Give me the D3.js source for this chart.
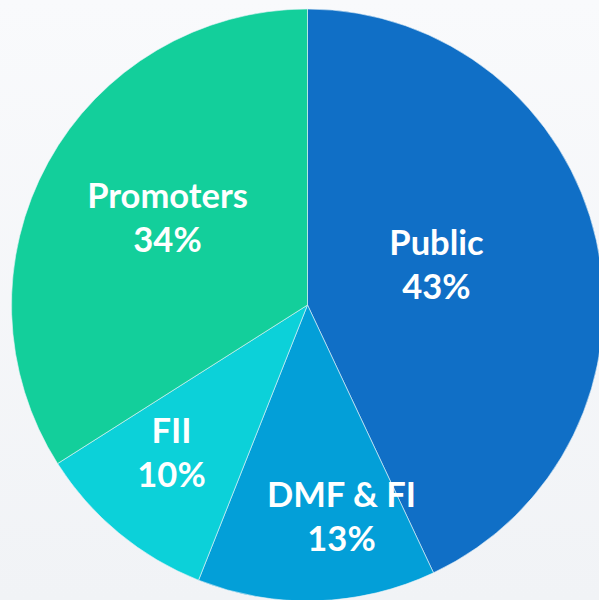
<!DOCTYPE html>
<html>
<head>
<meta charset="utf-8">
<script src="https://cdn.jsdelivr.net/npm/d3@7"></script>
<style>
  html, body { margin: 0; padding: 0; }
  body { width: 599px; height: 600px; overflow: hidden; }
</style>
</head>
<body>
<svg id="chart" width="599" height="600"></svg>
<script>
// ---- data ----
const categories = ["Public", "DMF & FI", "FII", "Promoters"];
const shares = [43, 13, 10, 34];
const valueLabels = ["43%", "13%", "10%", "34%"];

// ---- styling / layout (not data) ----
const colors = ["#106fc6", "#039fd8", "#0cd1d9", "#13cf9b"];
const labelOffsets = [[129, -50], [34, 202], [-136, 138], [-140, -97]]; // first-line baseline offset from centre
const lineGap = 44;

const W = 599, H = 600;
const cx = 307.5, cy = 305, R = 296;

const svg = d3.select("#chart");
const defs = svg.append("defs");
const grad = defs.append("linearGradient").attr("id", "bg").attr("x1", 0).attr("y1", 0).attr("x2", 0).attr("y2", 1);
grad.append("stop").attr("offset", "0%").attr("stop-color", "#f9fafc");
grad.append("stop").attr("offset", "100%").attr("stop-color", "#f1f3f6");
svg.append("rect").attr("width", W).attr("height", H).attr("fill", "url(#bg)");

const pie = d3.pie().value(d => d.v).sort(null).startAngle(0).endAngle(2 * Math.PI);
const arc = d3.arc().innerRadius(0).outerRadius(R);
const data = categories.map((c, i) => ({ c, v: shares[i], lbl: valueLabels[i], i }));

const g = svg.append("g").attr("transform", `translate(${cx},${cy})`);
g.selectAll("path.slice")
  .data(pie(data))
  .join("path")
  .attr("class", "slice")
  .attr("d", arc)
  .attr("fill", d => colors[d.data.i])
  .attr("stroke", "#e8f4f8")
  .attr("stroke-width", 0.6);

const labels = g.selectAll("text.lbl")
  .data(pie(data))
  .join("text")
  .attr("class", "lbl")
  .attr("text-anchor", "middle")
  .attr("fill", "#ffffff")
  .style("font-family", "Lato, 'Open Sans', sans-serif")
  .style("font-weight", "700")
  .style("font-size", "34.5px");
labels.append("tspan")
  .attr("x", d => labelOffsets[d.data.i][0])
  .attr("y", d => labelOffsets[d.data.i][1])
  .text(d => d.data.c);
labels.append("tspan")
  .attr("x", d => labelOffsets[d.data.i][0])
  .attr("y", d => labelOffsets[d.data.i][1] + lineGap)
  .text(d => d.data.lbl);
</script>
</body>
</html>
